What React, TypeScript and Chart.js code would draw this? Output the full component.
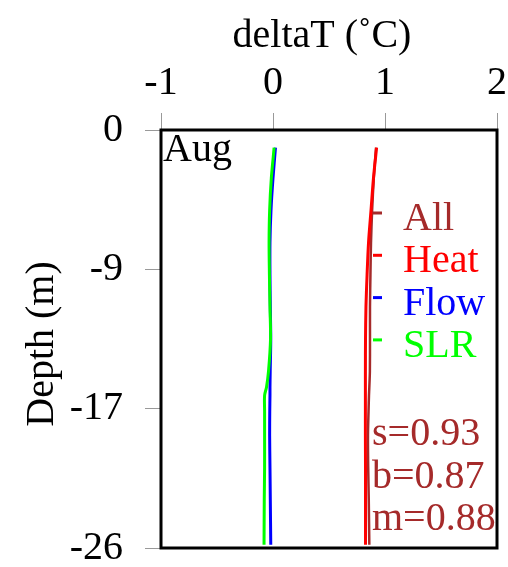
import { useEffect, useRef } from "react";
import { Chart, registerables } from "chart.js";

Chart.register(...registerables);

// ---- data ----
const depths = [-1.1, -3, -5, -7, -9, -11, -13, -15, -16, -16.5, -17.5, -19, -21, -23, -25.8];
const allValues = [0.92, 0.9, 0.885, 0.875, 0.87, 0.866, 0.866, 0.865, 0.86, 0.857, 0.853, 0.848, 0.85, 0.855, 0.86];
const heatValues = [0.925, 0.897, 0.875, 0.853, 0.84, 0.83, 0.826, 0.825, 0.825, 0.825, 0.825, 0.825, 0.826, 0.826, 0.826];
const flowValues = [0.022, 0.0, -0.018, -0.027, -0.027, -0.024, -0.02, -0.025, -0.027, -0.027, -0.029, -0.03, -0.027, -0.024, -0.02];
const slrValues = [0.01, -0.015, -0.03, -0.035, -0.032, -0.027, -0.022, -0.04, -0.058, -0.075, -0.075, -0.075, -0.075, -0.078, -0.08];

const seriesNames = ["All", "Heat", "Flow", "SLR"];
const seriesColors = ["#a52a2a", "#ff0000", "#0000ff", "#00ff00"];
const seriesWidths = [2.5, 3, 3, 3];

const xTickValues = [-1, 0, 1, 2];
const xTickLabels = ["-1", "0", "1", "2"];
const yTickValues = [0, -8.667, -17.333, -26];
const yTickLabels = ["0", "-9", "-17", "-26"];

const statLines = ["s=0.93", "b=0.87", "m=0.88"];
const panelLabel = "Aug";
const xTitle = "deltaT (\u02DAC)";
const yTitle = "Depth (m)";

const FONT = '"Liberation Serif", "Times New Roman", serif';

const decorPlugin = {
  id: "decor",
  afterDatasetsDraw(chart: any) {
    const { ctx, chartArea } = chart;
    const { left, top, right, bottom } = chartArea;
    ctx.save();
    // frame
    ctx.strokeStyle = "#000";
    ctx.lineWidth = 3;
    ctx.strokeRect(left, top, right - left, bottom - top);

    ctx.font = `40px ${FONT}`;
    ctx.textBaseline = "alphabetic";
    ctx.textAlign = "left";

    // panel label
    ctx.fillStyle = "#000";
    ctx.fillText(panelLabel, left + 2, top + 31);

    // legend
    seriesNames.forEach((name, i) => {
      const y = top + 83 + i * 42.3;
      ctx.strokeStyle = seriesColors[i];
      ctx.lineWidth = 3;
      ctx.beginPath();
      ctx.moveTo(left + 212, y);
      ctx.lineTo(left + 221, y);
      ctx.stroke();
      ctx.fillStyle = seriesColors[i];
      ctx.fillText(name, left + 242, y + 17);
    });

    // stats
    ctx.fillStyle = seriesColors[0];
    statLines.forEach((s, i) => {
      ctx.fillText(s, left + 211, top + 315 + i * 42.5);
    });
    ctx.restore();
  },
  afterDraw(chart: any) {
    const { ctx, chartArea } = chart;
    ctx.save();
    ctx.font = `40px ${FONT}`;
    ctx.fillStyle = "#000";
    ctx.textAlign = "center";
    ctx.textBaseline = "middle";
    ctx.fillText(xTitle, (chartArea.left + chartArea.right) / 2 - 7, 36);
    ctx.translate(42, (chartArea.top + chartArea.bottom) / 2 + 5);
    ctx.rotate(-Math.PI / 2);
    ctx.fillText(yTitle, 0, 0);
    ctx.restore();
  },
};

const zeroPad = (scale: any) => {
  scale.paddingTop = 0;
  scale.paddingBottom = 0;
  scale.paddingLeft = 0;
  scale.paddingRight = 0;
};

export default function App() {
  const ref = useRef<HTMLCanvasElement | null>(null);

  useEffect(() => {
    if (!ref.current) return;
    const seriesValues = [allValues, heatValues, flowValues, slrValues];
    const chart = new Chart(ref.current, {
      type: "scatter",
      data: {
        datasets: seriesNames.map((name, i) => ({
          label: name,
          data: depths.map((d, k) => ({ x: seriesValues[i][k], y: d })),
          showLine: true,
          borderColor: seriesColors[i],
          backgroundColor: seriesColors[i],
          borderWidth: seriesWidths[i],
          pointRadius: 0,
          tension: 0.3,
          order: seriesNames.length - i,
        })),
      },
      options: {
        animation: false,
        responsive: false,
        events: [],
        layout: { padding: { left: 0, right: 11, top: 0, bottom: 19 } },
        plugins: { legend: { display: false }, tooltip: { enabled: false } },
        scales: {
          x: {
            type: "linear",
            position: "top",
            min: -1,
            max: 2,
            afterBuildTicks: (scale: any) => {
              scale.ticks = xTickValues.map((v) => ({ value: v }));
            },
            afterFit: (scale: any) => {
              scale.height = 130;
              zeroPad(scale);
            },
            ticks: {
              font: { family: FONT, size: 40 },
              color: "#000",
              padding: 6,
              maxRotation: 0,
              callback: (_v: any, i: number) => xTickLabels[i],
            },
            grid: { drawOnChartArea: false, drawTicks: true, tickLength: 17, color: "#999" },
            border: { display: true, color: "#999" },
          },
          y: {
            type: "linear",
            min: -26,
            max: 0,
            afterBuildTicks: (scale: any) => {
              scale.ticks = yTickValues.map((v) => ({ value: v }));
            },
            afterFit: (scale: any) => {
              scale.width = 161;
              zeroPad(scale);
            },
            ticks: {
              font: { family: FONT, size: 40 },
              color: "#000",
              padding: 22,
              callback: (_v: any, i: number) => yTickLabels[i],
            },
            grid: { drawOnChartArea: false, drawTicks: true, tickLength: 16, color: "#999" },
            border: { display: true, color: "#999" },
          },
        },
      },
      plugins: [decorPlugin],
    } as any);
    return () => chart.destroy();
  }, []);

  return (
    <div style={{ position: "absolute", left: 0, top: 0, width: 508, height: 567, background: "#fff" }}>
      <canvas ref={ref} width={508} height={567} />
    </div>
  );
}
